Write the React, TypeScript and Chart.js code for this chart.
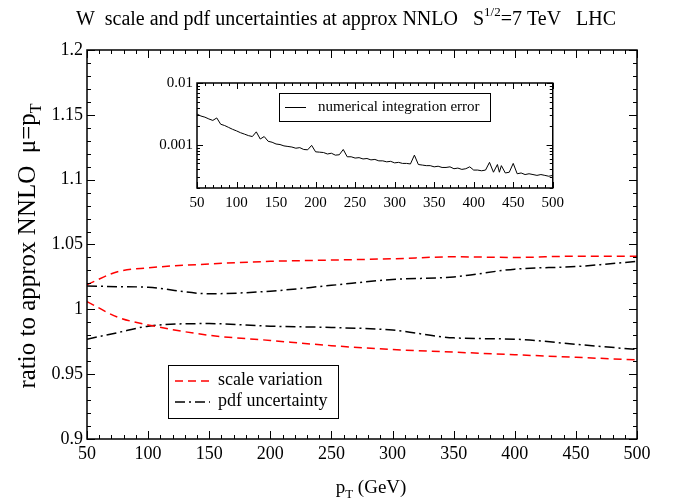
import React, { useEffect, useRef } from 'react';
import { Chart, registerables } from 'chart.js';
Chart.register(...registerables);

// ---------- main panel data ----------
const pT = [50, 75, 100, 150, 200, 250, 300, 350, 400, 450, 500];
const scaleUp = [1.019, 1.029, 1.032, 1.035, 1.037, 1.038, 1.039, 1.0405, 1.040, 1.041, 1.041];
const scaleDown = [1.006, 0.994, 0.988, 0.980, 0.976, 0.972, 0.969, 0.967, 0.965, 0.963, 0.961];
const pdfUp = [1.018, 1.0175, 1.017, 1.012, 1.014, 1.0185, 1.023, 1.025, 1.031, 1.033, 1.037];
const pdfDown = [0.977, 0.982, 0.987, 0.989, 0.987, 0.986, 0.984, 0.978, 0.977, 0.973, 0.969];

// ---------- inset data ----------
const errPt = [
  50, 55, 60, 65, 70, 75, 80, 85, 90, 95, 100, 105, 110, 115, 120, 125, 130, 135, 140, 145,
  150, 155, 160, 165, 170, 175, 180, 185, 190, 195, 200, 205, 210, 215, 220, 225, 230, 235, 240, 245,
  250, 255, 260, 265, 270, 275, 280, 285, 290, 295, 300, 305, 310, 315, 320, 325, 330, 335, 340, 345,
  350, 355, 360, 365, 370, 375, 380, 385, 390, 395, 400, 405, 410, 415, 420, 425, 430, 432.5, 435, 440,
  445, 450, 455, 460, 465, 470, 475, 480, 485, 490, 495, 500,
];
const errVal = [
  0.00315, 0.00292, 0.00280, 0.00262, 0.00248, 0.00272, 0.00215, 0.00205, 0.00191, 0.00178,
  0.00168, 0.00157, 0.00149, 0.00141, 0.00136, 0.00162, 0.00124, 0.00136, 0.00114, 0.00110,
  0.00103, 0.00101, 0.00096, 0.00094, 0.00092, 0.00088, 0.00090, 0.00084, 0.00083, 0.00098,
  0.00077, 0.00076, 0.00075, 0.00071, 0.00073, 0.00068, 0.00069, 0.00084, 0.00064, 0.00064,
  0.00061, 0.00062, 0.00059, 0.00060, 0.00057, 0.00058, 0.00055, 0.00055, 0.00053, 0.00054,
  0.00051, 0.00052, 0.00050, 0.00050, 0.00049, 0.00068, 0.00048, 0.00047, 0.00046, 0.00046,
  0.00044, 0.00045, 0.00043, 0.00043, 0.00044, 0.00041, 0.00042, 0.00040, 0.00041, 0.00044,
  0.00039, 0.00039, 0.00038, 0.00039, 0.00052, 0.00036, 0.00048, 0.00036, 0.00046, 0.00035,
  0.00036, 0.00050, 0.00034, 0.00035, 0.00033, 0.00034, 0.00033, 0.00032, 0.00033, 0.00032,
  0.00031, 0.00032,
];

const mainXTicks = [50, 100, 150, 200, 250, 300, 350, 400, 450, 500];
const mainYTickLabels = ['0.9', '0.95', '1', '1.05', '1.1', '1.15', '1.2'];
const insetYTickLabels = ['0.001', '0.01'];

const SERIF = '"Liberation Serif", "Times New Roman", serif';
const RED = '#ff0000';

type Part = { t: string; size: number; dy?: number };

function drawRich(ctx: CanvasRenderingContext2D, parts: Part[], cx: number, y: number) {
  let total = 0;
  const widths = parts.map((p) => {
    ctx.font = `${p.size}px ${SERIF}`;
    const w = ctx.measureText(p.t).width;
    total += w;
    return w;
  });
  let x = cx - total / 2;
  ctx.textAlign = 'left';
  ctx.textBaseline = 'alphabetic';
  parts.forEach((p, i) => {
    ctx.font = `${p.size}px ${SERIF}`;
    ctx.fillText(p.t, x, y + (p.dy || 0));
    x += widths[i];
  });
}

function line(ctx: CanvasRenderingContext2D, x1: number, y1: number, x2: number, y2: number) {
  ctx.beginPath();
  ctx.moveTo(x1, y1);
  ctx.lineTo(x2, y2);
  ctx.stroke();
}

const mainDecor = {
  id: 'mainDecor',
  beforeDraw(chart: any) {
    const ctx = chart.ctx;
    ctx.save();
    ctx.fillStyle = '#fff';
    ctx.fillRect(0, 0, chart.width, chart.height);
    ctx.restore();
  },
  afterDraw(chart: any) {
    const ctx: CanvasRenderingContext2D = chart.ctx;
    const { left, right, top, bottom } = chart.chartArea;
    const xs = chart.scales.x;
    const ys = chart.scales.y;
    ctx.save();
    ctx.strokeStyle = '#000';
    ctx.fillStyle = '#000';
    ctx.setLineDash([]);
    ctx.lineWidth = 1.5;
    ctx.strokeRect(left, top, right - left, bottom - top);
    ctx.lineWidth = 1;
    for (let k = 0; k <= 45; k++) {
      const v = 50 + k * 10;
      const px = Math.round(xs.getPixelForValue(v)) + 0.5;
      const len = k % 5 === 0 ? 8 : 4;
      line(ctx, px, bottom, px, bottom - len);
      line(ctx, px, top, px, top + len);
    }
    for (let k = 0; k <= 30; k++) {
      const v = 0.9 + k * 0.01;
      const py = Math.round(ys.getPixelForValue(v)) + 0.5;
      const len = k % 5 === 0 ? 8 : 4;
      line(ctx, left, py, left + len, py);
      line(ctx, right, py, right - len, py);
    }
    // title
    drawRich(
      ctx,
      [
        { t: 'W  scale and pdf uncertainties at approx NNLO   S', size: 20 },
        { t: '1/2', size: 13, dy: -9 },
        { t: '=7 TeV   LHC', size: 20 },
      ],
      346,
      25
    );
    // x title
    drawRich(
      ctx,
      [
        { t: 'p', size: 19 },
        { t: 'T', size: 13, dy: 5 },
        { t: ' (GeV)', size: 19 },
      ],
      371,
      493
    );
    // y title
    ctx.save();
    ctx.translate(35, 246);
    ctx.rotate(-Math.PI / 2);
    drawRich(
      ctx,
      [
        { t: 'ratio to approx NNLO  \u03bc=p', size: 25 },
        { t: 'T', size: 16, dy: 6 },
      ],
      0,
      0
    );
    ctx.restore();
    // legend
    ctx.lineWidth = 1;
    ctx.strokeStyle = '#000';
    ctx.strokeRect(168.5, 365.5, 170, 53);
    ctx.lineWidth = 1.5;
    ctx.strokeStyle = RED;
    ctx.setLineDash([8, 5]);
    line(ctx, 175, 381, 210, 381);
    ctx.strokeStyle = '#000';
    ctx.setLineDash([10, 4, 2, 4]);
    line(ctx, 175, 402, 210, 402);
    ctx.setLineDash([]);
    ctx.font = `18px ${SERIF}`;
    ctx.textAlign = 'left';
    ctx.textBaseline = 'middle';
    ctx.fillStyle = '#000';
    ctx.fillText('scale variation', 218, 380);
    ctx.fillText('pdf uncertainty', 218, 401);
    ctx.restore();
  },
};

const insetDecor = {
  id: 'insetDecor',
  beforeDraw(chart: any) {
    const ctx = chart.ctx;
    const { left, right, top, bottom } = chart.chartArea;
    ctx.save();
    ctx.fillStyle = '#fff';
    ctx.fillRect(left, top, right - left, bottom - top);
    ctx.restore();
  },
  afterDraw(chart: any) {
    const ctx: CanvasRenderingContext2D = chart.ctx;
    const { left, right, top, bottom } = chart.chartArea;
    const xs = chart.scales.x;
    const ys = chart.scales.y;
    ctx.save();
    ctx.strokeStyle = '#000';
    ctx.setLineDash([]);
    ctx.lineWidth = 1.5;
    ctx.strokeRect(left, top, right - left, bottom - top);
    ctx.lineWidth = 1;
    for (let k = 0; k <= 45; k++) {
      const v = 50 + k * 10;
      const px = Math.round(xs.getPixelForValue(v)) + 0.5;
      const len = k % 5 === 0 ? 6 : 3;
      line(ctx, px, bottom, px, bottom - len);
      line(ctx, px, top, px, top + len);
    }
    const decades = [0.0001, 0.001];
    decades.forEach((d) => {
      for (let m = 1; m <= 10; m++) {
        const v = d * m;
        if (v < 0.0002 - 1e-12 || v > 0.01 + 1e-12) continue;
        const py = Math.round(ys.getPixelForValue(v)) + 0.5;
        const len = m === 1 || m === 10 ? 6 : 3;
        line(ctx, left, py, left + len, py);
        line(ctx, right, py, right - len, py);
      }
    });
    // inset legend
    ctx.lineWidth = 1;
    ctx.strokeRect(139.5, 23.5, 211, 28);
    line(ctx, 145, 37.5, 166, 37.5);
    ctx.font = `15px ${SERIF}`;
    ctx.fillStyle = '#000';
    ctx.textAlign = 'left';
    ctx.textBaseline = 'middle';
    ctx.fillText('numerical integration error', 178, 37);
    ctx.restore();
  },
};

export default function App() {
  const mainRef = useRef<HTMLCanvasElement>(null);
  const insetRef = useRef<HTMLCanvasElement>(null);

  useEffect(() => {
    document.body.style.margin = '0';
    const toXY = (ys: number[]) => pT.map((x, i) => ({ x, y: ys[i] }));
    const main = new Chart(mainRef.current!, {
      type: 'line',
      data: {
        datasets: [
          { label: 'scale variation', data: toXY(scaleUp), borderColor: RED, borderDash: [8, 5], borderWidth: 1.5, pointRadius: 0, cubicInterpolationMode: 'monotone', fill: false },
          { label: 'scale variation low', data: toXY(scaleDown), borderColor: RED, borderDash: [8, 5], borderWidth: 1.5, pointRadius: 0, cubicInterpolationMode: 'monotone', fill: false },
          { label: 'pdf uncertainty', data: toXY(pdfUp), borderColor: '#000', borderDash: [10, 4, 2, 4], borderWidth: 1.5, pointRadius: 0, cubicInterpolationMode: 'monotone', fill: false },
          { label: 'pdf uncertainty low', data: toXY(pdfDown), borderColor: '#000', borderDash: [10, 4, 2, 4], borderWidth: 1.5, pointRadius: 0, cubicInterpolationMode: 'monotone', fill: false },
        ],
      },
      options: {
        responsive: false,
        animation: false,
        devicePixelRatio: 1,
        layout: { padding: { left: 0, right: 36, top: 50, bottom: 0 } },
        plugins: { legend: { display: false }, tooltip: { enabled: false }, title: { display: false } },
        scales: {
          x: {
            type: 'linear',
            min: 50,
            max: 500,
            afterBuildTicks: (s: any) => { s.ticks = mainXTicks.map((v) => ({ value: v })); },
            afterFit: (s: any) => { s.height = 63; },
            grid: { display: false, drawTicks: false },
            border: { display: false },
            ticks: { color: '#000', font: { family: SERIF, size: 18 }, padding: 4, maxRotation: 0, autoSkip: false },
          },
          y: {
            type: 'linear',
            min: 0.9,
            max: 1.2,
            afterBuildTicks: (s: any) => { s.ticks = mainYTickLabels.map((t) => ({ value: parseFloat(t) })); },
            afterFit: (s: any) => { s.width = 87; },
            grid: { display: false, drawTicks: false },
            border: { display: false },
            ticks: {
              color: '#000',
              font: { family: SERIF, size: 18 },
              padding: 4,
              autoSkip: false,
              callback: (v: any) => mainYTickLabels.find((t) => Math.abs(parseFloat(t) - v) < 1e-9) ?? '',
            },
          },
        },
      },
      plugins: [mainDecor],
    });

    const inset = new Chart(insetRef.current!, {
      type: 'line',
      data: {
        datasets: [
          { label: 'numerical integration error', data: errPt.map((x, i) => ({ x, y: errVal[i] })), borderColor: '#000', borderWidth: 1, pointRadius: 0, tension: 0, fill: false },
        ],
      },
      options: {
        responsive: false,
        animation: false,
        devicePixelRatio: 1,
        layout: { padding: { left: 0, right: 14, top: 10, bottom: 0 } },
        plugins: { legend: { display: false }, tooltip: { enabled: false } },
        scales: {
          x: {
            type: 'linear',
            min: 50,
            max: 500,
            afterBuildTicks: (s: any) => { s.ticks = mainXTicks.map((v) => ({ value: v })); },
            afterFit: (s: any) => { s.height = 27; },
            grid: { display: false, drawTicks: false },
            border: { display: false },
            ticks: { color: '#000', font: { family: SERIF, size: 15 }, padding: 6, maxRotation: 0, autoSkip: false },
          },
          y: {
            type: 'logarithmic',
            min: 0.0002,
            max: 0.01,
            afterBuildTicks: (s: any) => { s.ticks = insetYTickLabels.map((t) => ({ value: parseFloat(t) })); },
            afterFit: (s: any) => { s.width = 57; },
            grid: { display: false, drawTicks: false },
            border: { display: false },
            ticks: {
              color: '#000',
              font: { family: SERIF, size: 15 },
              padding: 4,
              autoSkip: false,
              callback: (v: any) => insetYTickLabels.find((t) => Math.abs(parseFloat(t) - v) < 1e-12) ?? '',
            },
          },
        },
      },
      plugins: [insetDecor],
    });

    return () => {
      main.destroy();
      inset.destroy();
    };
  }, []);

  return (
    <div style={{ position: 'relative', width: 673, height: 502 }}>
      <canvas ref={mainRef} width={673} height={502} style={{ position: 'absolute', left: 0, top: 0, width: 673, height: 502 }} />
      <canvas ref={insetRef} width={430} height={145} style={{ position: 'absolute', left: 140, top: 70, width: 430, height: 145 }} />
    </div>
  );
}
